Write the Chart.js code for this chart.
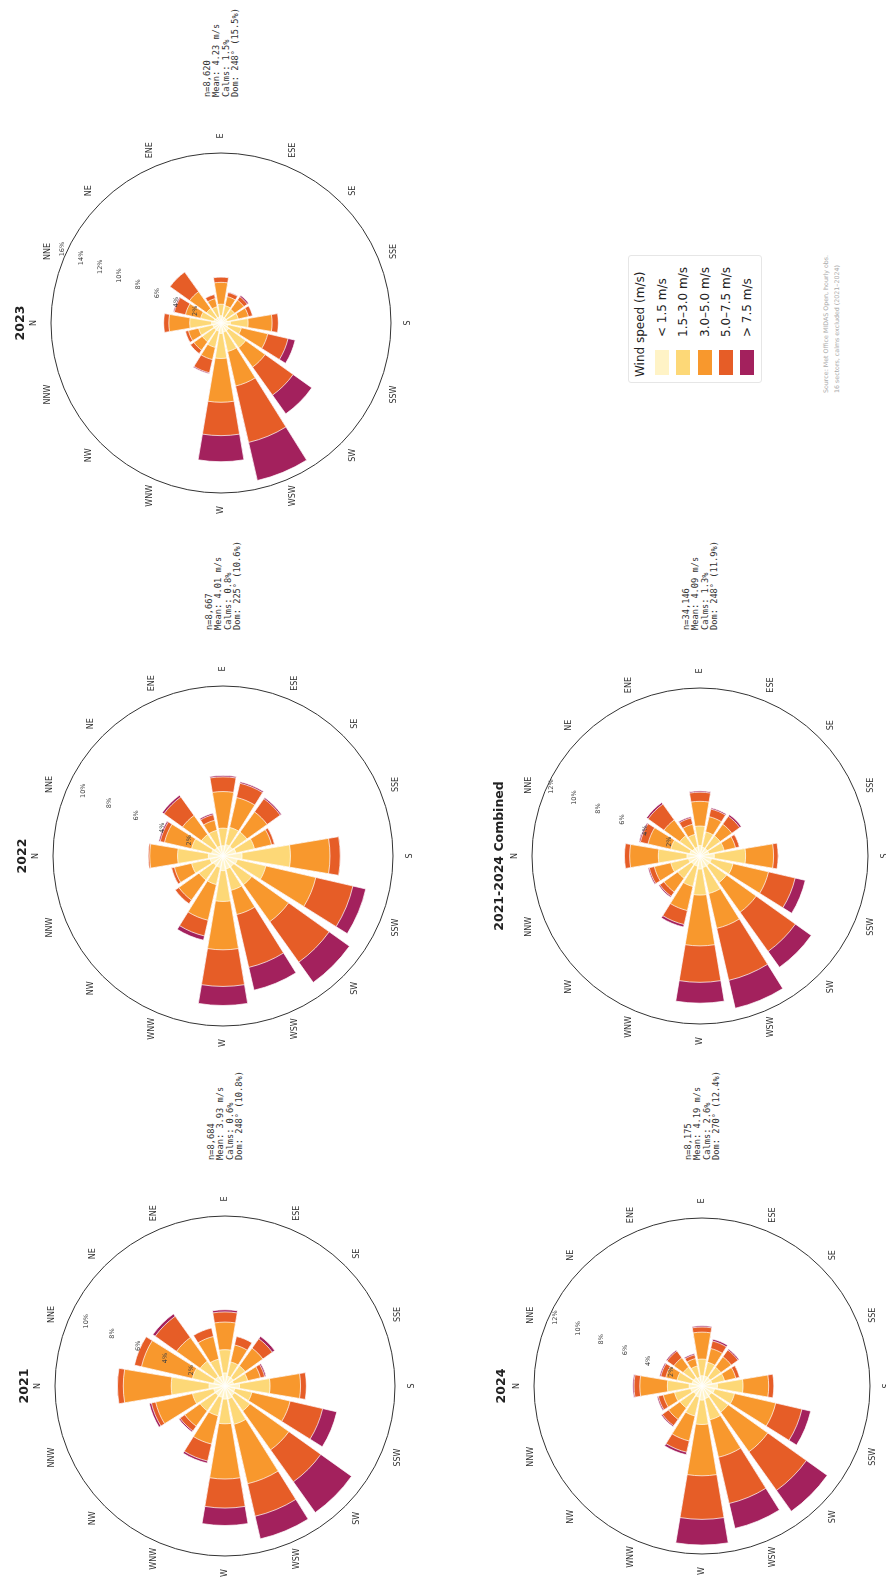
<!DOCTYPE html>
<html><head><meta charset="utf-8">
<script src="https://cdn.jsdelivr.net/npm/chart.js@4.4.1/dist/chart.umd.min.js"></script>
<style>
html,body{margin:0;padding:0;background:#fff;overflow:hidden;width:886px;height:1583px;}
#page{position:absolute;left:0;top:0;width:1583px;height:886px;transform-origin:0 0;transform:translate(0px,1583px) rotate(-90deg);background:#fff;font-family:"DejaVu Sans",sans-serif;color:#222;}
.rose{position:absolute;}
.title{position:absolute;font-weight:bold;font-size:12.5px;transform:translate(-50%,-50%);white-space:nowrap;color:#222;}
.stats{position:absolute;font-family:"DejaVu Sans Mono",monospace;font-size:8.7px;line-height:9.3px;white-space:pre;color:#333;}
.lg{position:absolute;font-size:12px;white-space:nowrap;color:#222;line-height:14px;}
.sw{position:absolute;width:25px;height:14px;}
.foot{position:absolute;font-size:6.3px;color:#aaa;white-space:nowrap;}
</style></head>
<body><div id="page"></div>
<script>
// ---------- data ----------
const directions = ['N','NNE','NE','ENE','E','ESE','SE','SSE','S','SSW','SW','WSW','W','WNW','NW','NNW'];
const speedBins = ['< 1.5 m/s','1.5–3.0 m/s','3.0–5.0 m/s','5.0–7.5 m/s','> 7.5 m/s'];
const binColors = ['#fff3c6','#fdd877','#f8982d','#e65d27','#a3215d'];

// frequency (%) per direction, per speed bin
const y2021_lt15 = [1.1,0.8,0.8,0.7,0.9,0.7,0.7,0.6,1.0,0.7,0.8,0.9,0.9,0.8,0.8,0.8];
const y2021_1530 = [2.6,1.5,1.3,1.2,1.6,1.0,1.0,1.0,2.1,1.2,1.3,1.8,1.7,1.3,1.3,1.5];
const y2021_3050 = [3.3,3.6,2.0,1.6,1.9,1.2,1.5,0.9,2.1,2.7,3.3,4.2,3.8,2.0,1.3,2.6];
const y2021_5075 = [0.4,0.5,1.8,0.6,0.7,0.6,0.8,0.3,0.4,2.3,2.7,2.3,2.0,1.2,0.4,0.3];
const y2021_gt75 = [0.0,0.0,0.2,0.0,0.15,0.0,0.2,0.1,0.0,1.0,2.6,1.6,1.2,0.15,0.1,0.15];

const y2022_lt15 = [1.0,0.8,0.7,0.7,0.7,0.8,0.8,0.9,1.3,1.0,0.9,0.9,1.0,0.8,0.8,0.9];
const y2022_1530 = [2.1,1.4,1.1,1.1,1.2,1.2,1.2,1.3,3.3,2.0,1.5,1.5,2.1,1.2,1.2,1.3];
const y2022_3050 = [1.9,1.9,1.6,0.7,2.5,2.1,1.7,1.2,2.7,3.5,3.1,1.7,3.3,2.5,1.7,1.2];
const y2022_5075 = [0.1,0.3,1.55,0.4,1.0,1.0,1.1,0.2,0.7,2.6,3.4,3.7,2.5,1.1,0.3,0.2];
const y2022_gt75 = [0.0,0.1,0.15,0.1,0.1,0.1,0.1,0.0,0.0,0.9,1.7,1.6,1.3,0.3,0.0,0.0];

const y2023_lt15 = [0.9,0.7,0.6,0.6,0.7,0.6,0.6,0.6,0.9,0.7,0.9,0.9,1.0,0.8,0.8,0.8];
const y2023_1530 = [2.1,1.3,1.1,1.0,1.1,1.1,1.0,1.1,1.7,1.3,2.0,1.9,2.4,1.6,1.4,1.4];
const y2023_3050 = [2.0,1.5,2.0,0.8,2.1,0.9,1.1,1.0,2.3,2.6,2.3,3.4,4.2,1.2,1.0,1.0];
const y2023_5075 = [0.5,1.1,2.3,0.4,0.5,0.4,0.4,0.4,0.6,2.0,3.3,5.55,3.2,1.3,0.4,0.3];
const y2023_gt75 = [0.0,0.1,0.0,0.0,0.0,0.05,0.15,0.0,0.0,0.7,2.2,3.75,2.5,0.1,0.0,0.0];

const y2024_lt15 = [1.0,0.8,0.8,0.7,0.8,0.8,0.8,0.8,1.2,1.0,0.9,1.0,1.1,0.9,0.8,0.9];
const y2024_1530 = [1.7,1.2,1.0,0.9,1.3,1.1,1.0,1.0,2.0,1.6,1.6,1.7,1.9,1.5,1.3,1.3];
const y2024_3050 = [2.15,0.9,0.9,0.6,2.1,1.1,1.0,0.9,2.0,3.3,3.8,3.0,4.0,2.0,1.1,0.9];
const y2024_5075 = [0.45,0.4,0.65,0.3,0.4,0.6,0.65,0.3,0.4,2.1,3.7,3.7,3.4,0.9,0.6,0.4];
const y2024_gt75 = [0.1,0.1,0.1,0.1,0.1,0.15,0.1,0.0,0.0,0.7,2.0,2.0,2.0,0.2,0.1,0.1];

const all_lt15 = [1.0,0.8,0.7,0.7,0.8,0.7,0.7,0.7,1.1,0.9,0.9,0.9,1.0,0.8,0.8,0.9];
const all_1530 = [2.2,1.5,1.2,1.0,1.5,1.2,1.2,1.2,2.4,1.7,1.6,2.05,2.0,1.6,1.3,1.4];
const all_3050 = [2.2,1.8,1.5,0.8,1.9,1.2,1.1,0.9,2.15,2.8,2.8,2.75,3.9,1.9,1.3,1.3];
const all_5075 = [0.4,0.6,1.5,0.5,0.7,0.6,0.75,0.3,0.35,2.1,3.7,4.1,2.8,1.1,0.4,0.4];
const all_gt75 = [0.0,0.1,0.15,0.1,0.1,0.1,0.15,0.0,0.0,0.8,1.5,2.2,1.6,0.2,0.1,0.1];

const titles = ['2021','2022','2023','2024','2021-2024 Combined'];
const radialMax = [11.7, 11.6, 16.3, 13.1, 12.9];
const tickValues2021 = [2,4,6,8,10];
const tickValues2022 = [2,4,6,8,10];
const tickValues2023 = [2,4,6,8,10,12,14,16];
const tickValues2024 = [2,4,6,8,10,12];
const tickValuesAll = [2,4,6,8,10,12];
const statsText = [
  ['n=8,684','Mean: 3.93 m/s','Calms: 0.6%','Dom: 248° (10.8%)'],
  ['n=8,667','Mean: 4.01 m/s','Calms: 0.8%','Dom: 225° (10.6%)'],
  ['n=8,620','Mean: 4.23 m/s','Calms: 1.5%','Dom: 248° (15.5%)'],
  ['n=8,175','Mean: 4.19 m/s','Calms: 2.6%','Dom: 270° (12.4%)'],
  ['n=34,146','Mean: 4.09 m/s','Calms: 1.3%','Dom: 248° (11.9%)']
];

// ---------- layout ----------
const page = document.getElementById('page');
const BAR = 19, GAP = 3.5;
const layout = [
  {cx:197, cy:225, R:170},
  {cx:727, cy:223, R:170},
  {cx:1260, cy:221, R:170},
  {cx:197, cy:702, R:168},
  {cx:727, cy:700, R:168}
];
const roses = [
  {bins:[y2021_lt15,y2021_1530,y2021_3050,y2021_5075,y2021_gt75], ticks:tickValues2021},
  {bins:[y2022_lt15,y2022_1530,y2022_3050,y2022_5075,y2022_gt75], ticks:tickValues2022},
  {bins:[y2023_lt15,y2023_1530,y2023_3050,y2023_5075,y2023_gt75], ticks:tickValues2023},
  {bins:[y2024_lt15,y2024_1530,y2024_3050,y2024_5075,y2024_gt75], ticks:tickValues2024},
  {bins:[all_lt15,all_1530,all_3050,all_5075,all_gt75], ticks:tickValuesAll}
];

function decoPlugin(ticks){
  return {id:'roseDeco', afterDatasetsDraw(chart){
    const s = chart.scales.r, ctx = chart.ctx;
    ctx.save();
    ctx.beginPath();
    ctx.arc(s.xCenter, s.yCenter, s.drawingArea, 0, Math.PI*2);
    ctx.strokeStyle = '#333'; ctx.lineWidth = 1; ctx.stroke();
    ctx.fillStyle = '#333'; ctx.font = '8px "DejaVu Sans"';
    ctx.textAlign = 'center'; ctx.textBaseline = 'middle';
    directions.forEach((d,i)=>{
      const a = i*22.5*Math.PI/180, r = s.drawingArea + 17;
      ctx.fillText(d, s.xCenter + Math.sin(a)*r, s.yCenter - Math.cos(a)*r);
    });
    ctx.font = '6.5px "DejaVu Sans"'; ctx.fillStyle = '#444';
    const a = 25*Math.PI/180;
    ticks.forEach(v=>{
      const r = s.getDistanceFromCenterForValue(v) + 8;
      ctx.fillText(v + '%', s.xCenter + Math.sin(a)*r, s.yCenter - Math.cos(a)*r);
    });
    ctx.restore();
  }};
}

roses.forEach((rose, idx)=>{
  const L = layout[idx];
  const pad = 45, size = 2*(L.R + pad);
  const wrap = document.createElement('div');
  wrap.className = 'rose';
  wrap.style.left = (L.cx - size/2) + 'px';
  wrap.style.top = (L.cy - size/2) + 'px';
  wrap.style.width = size + 'px'; wrap.style.height = size + 'px';
  const cv = document.createElement('canvas');
  cv.width = size; cv.height = size;
  cv.style.width = size + 'px'; cv.style.height = size + 'px';
  wrap.appendChild(cv); page.appendChild(wrap);

  const cum = []; let run = directions.map(()=>0);
  rose.bins.forEach(b=>{ run = run.map((v,i)=>v + b[i]); cum.push(run.slice()); });
  const labels = [];
  directions.forEach(d=>{ labels.push(d); labels.push(''); });
  const datasets = cum.map((c,k)=>({
    label: speedBins[k],
    data: c.flatMap(v=>[v,0]),
    backgroundColor: binColors[k],
    borderColor: 'rgba(255,255,255,0.9)',
    borderWidth: ctx => (ctx.dataIndex % 2 ? 0 : 0.8),
    angle: ctx => (ctx.dataIndex % 2 ? GAP : BAR)
  }));
  new Chart(cv, {
    type:'polarArea',
    data:{labels, datasets},
    options:{
      responsive:false, animation:false, devicePixelRatio:1,
      layout:{padding:pad},
      plugins:{legend:{display:false}, tooltip:{enabled:false}},
      scales:{r:{min:0, max:radialMax[idx], startAngle:-BAR/2,
        ticks:{display:false}, grid:{display:false}, angleLines:{display:false},
        pointLabels:{display:false}}}
    },
    plugins:[decoPlugin(rose.ticks)]
  });

  const t = document.createElement('div');
  t.className = 'title'; t.textContent = titles[idx];
  t.style.left = L.cx + 'px'; t.style.top = (L.cy - 202) + 'px';
  page.appendChild(t);

  const st = document.createElement('div');
  st.className = 'stats'; st.textContent = statsText[idx].join('\n');
  st.style.left = (L.cx + 226) + 'px'; st.style.top = (L.cy - 18) + 'px';
  page.appendChild(st);
});

// legend
const frame = document.createElement('div');
frame.style.cssText = 'position:absolute;left:1200px;top:628px;width:126px;height:132px;border:1px solid #e6e6e6;border-radius:3px;';
page.appendChild(frame);
const lt = document.createElement('div');
lt.className = 'lg'; lt.textContent = 'Wind speed (m/s)';
lt.style.left = '1206px'; lt.style.top = '633px';
page.appendChild(lt);
const rowY = [662, 683, 705, 726, 747];
speedBins.forEach((b,i)=>{
  const sw = document.createElement('div');
  sw.className = 'sw'; sw.style.background = binColors[i];
  sw.style.left = '1208px'; sw.style.top = (rowY[i] - 7) + 'px';
  page.appendChild(sw);
  const lb = document.createElement('div');
  lb.className = 'lg'; lb.textContent = b;
  lb.style.left = '1246px'; lb.style.top = (rowY[i] - 7) + 'px';
  page.appendChild(lb);
});
const f1 = document.createElement('div');
f1.className = 'foot'; f1.textContent = 'Source: Met Office MIDAS Open, hourly obs.';
f1.style.left = '1190px'; f1.style.top = '822px'; page.appendChild(f1);
const f2 = document.createElement('div');
f2.className = 'foot'; f2.textContent = '16 sectors, calms excluded (2021–2024)';
f2.style.left = '1190px'; f2.style.top = '833px'; page.appendChild(f2);
</script>
</body></html>
